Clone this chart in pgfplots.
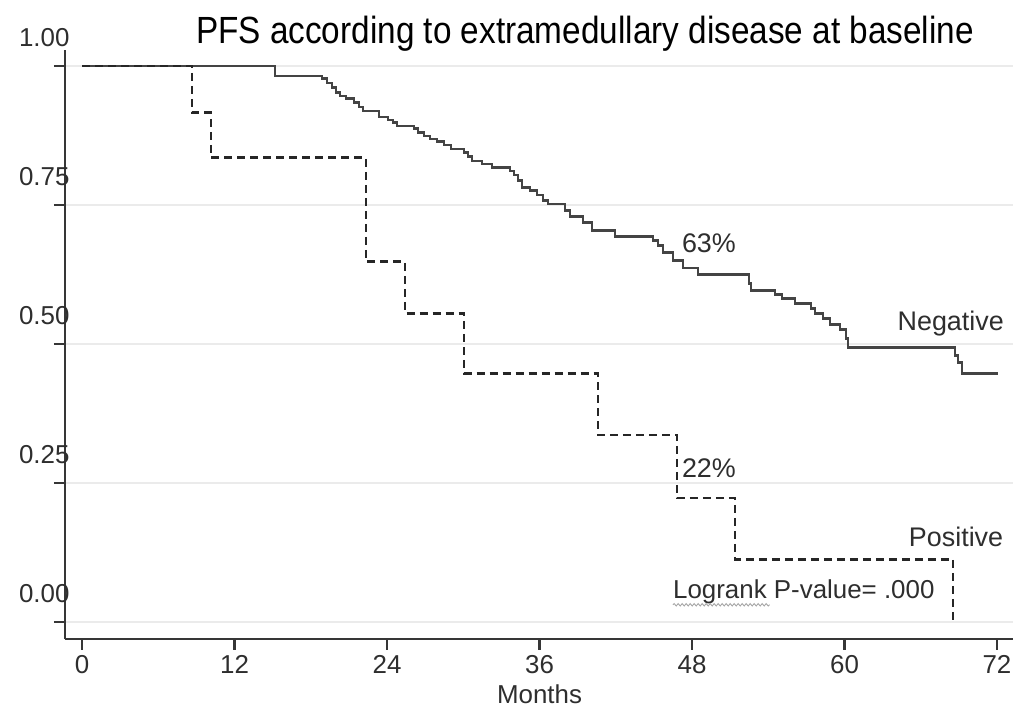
\documentclass[border=0pt]{standalone}
\usepackage{fontspec}
\setmainfont{Liberation Sans}
\usepackage{graphicx}
\usepackage{pgfplots}
\pgfplotsset{compat=1.18}
\usetikzlibrary{decorations.pathmorphing}
\definecolor{axisgray}{HTML}{363636}
\definecolor{curvegray}{HTML}{444444}
\definecolor{dashgray}{HTML}{262626}
\definecolor{textgray}{HTML}{2E2E2E}
\definecolor{gridgray}{HTML}{EBEBEB}

\begin{document}
\begin{tikzpicture}
\begin{axis}[
    scale only axis,
    width=948bp, height=589bp,
    xmin=-1.34, xmax=73.26,
    ymin=-0.0305, ymax=1.0287,
    axis lines=left,
    axis line style={-, axisgray, line width=2.6bp},
    clip=false,
    xtick={0,12,24,36,48,60,72},
    xticklabels={0,12,24,36,48,60,72},
    ytick={0,0.25,0.5,0.75,1},
    yticklabels={0.00,0.25,0.50,0.75,1.00},
    tick align=outside,
    major tick length=11bp,
    tick style={axisgray, line width=2.4bp},
    tick label style={font=\fontsize{26}{30}\selectfont, text=textgray},
    yticklabel style={anchor=east, xshift=19bp, yshift=28bp},
    xticklabel style={yshift=-2bp},
    ymajorgrids=true,
    grid style={gridgray, line width=2bp},
]

% Negative
\addplot[const plot, curvegray, line width=2.6bp] coordinates {
(0,1.0) (15.19,0.982) (18.89,0.977) (19.28,0.969) (19.67,0.961) (19.99,0.952)
(20.30,0.946) (20.77,0.941) (21.40,0.934) (21.80,0.926) (22.11,0.919)
(23.37,0.908) (24.08,0.903) (24.47,0.898) (24.79,0.892) (26.13,0.887)
(26.44,0.880) (26.91,0.874) (27.38,0.869) (27.94,0.864) (28.49,0.858)
(29.04,0.851) (30.06,0.844) (30.37,0.837) (30.69,0.829) (31.48,0.824)
(32.26,0.817) (33.68,0.811) (33.99,0.804) (34.31,0.794) (34.62,0.781)
(35.25,0.776) (35.80,0.768) (36.28,0.758) (36.67,0.752) (38.01,0.740)
(38.40,0.729) (39.42,0.718) (40.13,0.704) (41.94,0.693) (44.93,0.686)
(45.33,0.677) (45.72,0.664) (46.51,0.650) (47.29,0.637) (48.47,0.625)
(52.49,0.609) (52.64,0.596) (54.53,0.589) (55.08,0.582) (56.11,0.573)
(57.37,0.564) (57.68,0.555) (58.31,0.546) (58.86,0.535) (59.65,0.526)
(60.12,0.510) (60.28,0.494) (68.70,0.479) (68.93,0.467) (69.25,0.447)
(72.08,0.447)
};

% Positive
\addplot[const plot, dashgray, line width=2.6bp, dash pattern=on 8bp off 5bp] coordinates {
(0,1.0) (8.66,0.916) (10.15,0.835) (22.35,0.648) (25.42,0.555)
(30.06,0.447) (40.60,0.336) (46.82,0.223) (51.39,0.113) (68.54,0.0)
};

\node[anchor=base, text=black] at (axis cs:39.58,1.041)
  {\scalebox{0.88}[1]{\fontsize{38}{42}\selectfont PFS according to extramedullary disease at baseline}};
\node[anchor=base, text=textgray, font=\fontsize{26}{30}\selectfont] at (axis cs:36,-0.147) {Months};

\node[anchor=west, inner sep=0pt, text=textgray, font=\fontsize{27}{30}\selectfont] at (axis cs:47.2,0.682) {63\%};
\node[anchor=west, inner sep=0pt, text=textgray, font=\fontsize{27}{30}\selectfont] at (axis cs:47.2,0.276) {22\%};
\node[anchor=east, inner sep=0pt, text=textgray, font=\fontsize{27}{30}\selectfont] at (axis cs:72.55,0.537) {Negative};
\node[anchor=east, inner sep=0pt, text=textgray, font=\fontsize{27}{30}\selectfont] at (axis cs:72.5,0.153) {Positive};
\node[anchor=west, inner sep=0pt, text=textgray, font=\fontsize{26}{30}\selectfont] at (axis cs:46.5,0.054) {Logrank P-value= .000};
\draw[gray!70, line width=0.9bp, decorate, decoration={snake, segment length=4bp, amplitude=1.2bp}]
  (axis cs:46.5,0.031) -- (axis cs:54.1,0.031);

\end{axis}
\path (current axis.south west) ++(-65bp,-70bp) rectangle ++(1023bp,709bp);
\end{tikzpicture}
\end{document}
